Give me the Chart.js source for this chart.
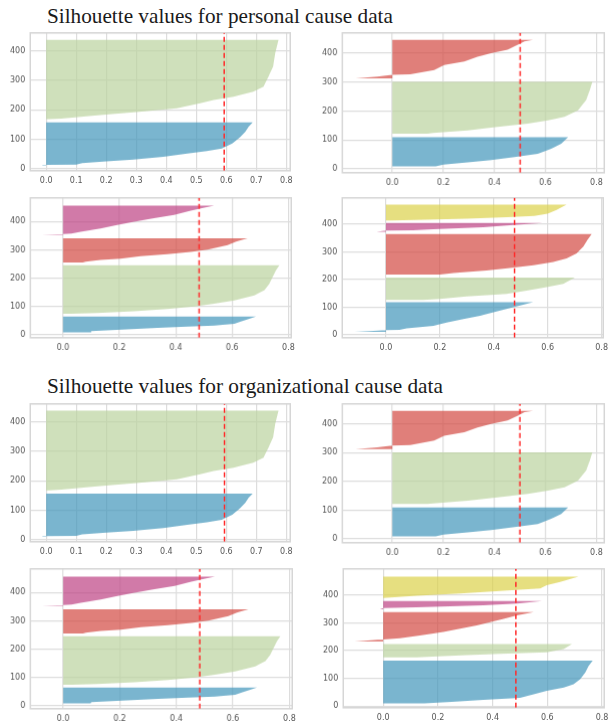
<!DOCTYPE html>
<html>
<head>
<meta charset="utf-8">
<script src="https://cdn.jsdelivr.net/npm/chart.js@4.4.0/dist/chart.umd.min.js"></script>
<style>
    body { margin: 0; background: #fff; width: 613px; height: 721px; position: relative; overflow: hidden; }
    .title { position: absolute; font-family: "Liberation Serif", "Times New Roman", serif; font-size: 21px; color: #1a1a1a; white-space: nowrap; line-height: 1; }
    .box { position: absolute; }
    .box canvas { display: block; }
</style>
</head>
<body>
<div class="title" id="title1" style="left:47px;top:6px">Silhouette values for personal cause data</div>
<div class="title" id="title2" style="left:47px;top:376px">Silhouette values for organizational cause data</div>

<script>
// 刻度
const xTicksFine = [0, 0.1, 0.2, 0.3, 0.4, 0.5, 0.6, 0.7, 0.8];
const xTicksCoarse = [0, 0.2, 0.4, 0.6, 0.8];
const yTicks = [0, 100, 200, 300, 400];

// 每个簇: [样本位置 y, 轮廓系数]
// personal, k=2
const pK2Blue = [[11, -0.015], [13, -0.01], [14, 0.1], [19, 0.12], [25, 0.2], [31, 0.29], [40, 0.39], [51, 0.47], [60, 0.535], [68, 0.585], [85, 0.62], [108, 0.647], [125, 0.663], [142, 0.674], [157, 0.688]];
const pK2Green = [[168, 0.01], [170, 0.05], [182, 0.18], [193, 0.31], [205, 0.435], [222, 0.513], [233, 0.558], [244, 0.624], [261, 0.69], [278, 0.724], [313, 0.741], [347, 0.756], [392, 0.763], [437, 0.774]];

// personal, k=3
const pK3Blue = [[9, 0.17], [15, 0.2], [23, 0.295], [31, 0.387], [41, 0.479], [52, 0.57], [70, 0.623], [87, 0.662], [110, 0.689]];
const pK3Green = [[122, 0.138], [124, 0.16], [133, 0.295], [145, 0.413], [157, 0.531], [168, 0.61], [180, 0.675], [203, 0.728], [238, 0.76], [272, 0.774], [301, 0.784]];
const pK3Red = [[313, -0.144], [319, -0.059], [325, 0.0], [327, 0.07], [342, 0.164], [359, 0.203], [371, 0.282], [388, 0.334], [400, 0.387], [412, 0.452], [429, 0.492], [441, 0.518], [446, 0.551]];

// personal, k=4
const pK4Blue = [[8, 0.097], [12, 0.1], [17, 0.19], [24, 0.335], [28, 0.44], [32, 0.536], [38, 0.608], [46, 0.631], [56, 0.661], [64, 0.685]];
const pK4Green = [[74, 0.03], [76, 0.12], [83, 0.252], [91, 0.37], [100, 0.465], [109, 0.536], [121, 0.608], [139, 0.679], [157, 0.715], [180, 0.732], [204, 0.744], [228, 0.756], [246, 0.768]];
const pK4Red = [[255, 0.07], [258, 0.08], [264, 0.133], [269, 0.204], [278, 0.275], [285, 0.37], [293, 0.453], [301, 0.513], [317, 0.584], [329, 0.614], [341, 0.655]];
const pK4Purple = [[353, -0.075], [355, -0.02], [356, 0.0], [358, 0.03], [364, 0.062], [376, 0.133], [388, 0.192], [400, 0.252], [412, 0.323], [424, 0.394], [439, 0.453], [447, 0.489], [457, 0.536]];

// personal, k=5
const pK5Blue = [[11, -0.115], [14, -0.06], [17, 0.0], [18, 0.05], [24, 0.077], [33, 0.176], [45, 0.225], [57, 0.287], [69, 0.349], [85, 0.41], [100, 0.472], [109, 0.509], [118, 0.546]];
const pK5Green = [[126, 0.138], [130, 0.2], [139, 0.299], [148, 0.448], [160, 0.522], [173, 0.596], [185, 0.658], [207, 0.701]];
const pK5Red = [[218, 0.2], [224, 0.25], [233, 0.373], [242, 0.46], [252, 0.547], [264, 0.621], [276, 0.67], [294, 0.707], [319, 0.732], [343, 0.747], [364, 0.763]];
const pK5Purple = [[373, -0.035], [377, 0.0], [378, 0.1], [382, 0.176], [389, 0.361], [398, 0.485], [404, 0.581]];
const pK5Yellow = [[413, 0.02], [416, 0.15], [420, 0.3], [425, 0.45], [430, 0.55], [438, 0.6], [452, 0.633], [471, 0.67]];

// organizational, k=5 (k=2..4 与 personal 相同)
const oK5Blue = [[10, 0.15], [15, 0.25], [22, 0.366], [30, 0.5], [42, 0.55], [55, 0.598], [67, 0.66], [79, 0.696], [97, 0.72], [121, 0.739], [145, 0.751], [164, 0.766]];
const oK5Green = [[176, 0.122], [179, 0.2], [184, 0.305], [188, 0.427], [194, 0.598], [206, 0.66], [224, 0.69]];
const oK5Red = [[233, -0.104], [239, -0.02], [240, 0.0], [245, 0.061], [255, 0.134], [267, 0.22], [279, 0.281], [291, 0.342], [303, 0.391], [315, 0.44], [327, 0.489], [339, 0.55]];
const oK5Purple = [[349, -0.012], [354, 0.0], [356, 0.12], [358, 0.183], [364, 0.366], [370, 0.489], [379, 0.58]];
const oK5Yellow = [[390, 0.0], [398, 0.122], [406, 0.281], [415, 0.427], [424, 0.574], [436, 0.598], [448, 0.647], [467, 0.714]];

// 平均轮廓系数
const personalAvg = [0.593, 0.501, 0.483, 0.477];
const orgAvg = [0.594, 0.5, 0.483, 0.485];

const clusterColors = ['rgba(65,149,186,0.7)', 'rgba(186,211,158,0.7)', 'rgba(211,72,66,0.7)', 'rgba(189,65,131,0.7)', 'rgba(219,209,74,0.7)'];

const panels = [
    { frame: [30, 33, 260, 137], x: [-0.053, 0.813], y: [-7, 461], xTicks: xTicksFine, clusters: [pK2Blue, pK2Green], avg: personalAvg[0] },
    { frame: [342, 33, 261, 139], x: [-0.196, 0.831], y: [-13, 470], xTicks: xTicksCoarse, clusters: [pK3Blue, pK3Green, pK3Red], avg: personalAvg[1] },
    { frame: [30, 198, 260, 139], x: [-0.116, 0.81], y: [-11, 484], xTicks: xTicksCoarse, clusters: [pK4Blue, pK4Green, pK4Red, pK4Purple], avg: personalAvg[2] },
    { frame: [342, 198, 261, 139], x: [-0.162, 0.806], y: [-10, 495], xTicks: xTicksCoarse, clusters: [pK5Blue, pK5Green, pK5Red, pK5Purple, pK5Yellow], avg: personalAvg[3] },
    { frame: [30, 404, 260, 137], x: [-0.053, 0.813], y: [-6, 460], xTicks: xTicksFine, clusters: [pK2Blue, pK2Green], avg: orgAvg[0] },
    { frame: [342, 404, 261, 138], x: [-0.196, 0.831], y: [-13, 470], xTicks: xTicksCoarse, clusters: [pK3Blue, pK3Green, pK3Red], avg: orgAvg[1] },
    { frame: [30, 569, 261, 139], x: [-0.116, 0.81], y: [-11, 484], xTicks: xTicksCoarse, clusters: [pK4Blue, pK4Green, pK4Red, pK4Purple], avg: orgAvg[2] },
    { frame: [343, 569, 261, 138], x: [-0.146, 0.808], y: [-6, 495], xTicks: xTicksCoarse, clusters: [oK5Blue, oK5Green, oK5Red, oK5Purple, oK5Yellow], avg: orgAvg[3] }
];

// 标题宽度按原图调整
function fitTitle(id, targetWidth) {
    const el = document.getElementById(id);
    const w = el.getBoundingClientRect().width;
    el.style.fontSize = (21 * targetWidth / w).toFixed(2) + 'px';
}
fitTitle('title1', 346);
fitTitle('title2', 396);

// 画外框
const framePlugin = {
    id: 'frame',
    beforeDatasetsDraw(chart) {
        const { ctx, chartArea } = chart;
        ctx.save();
        ctx.strokeStyle = '#d6d6d6';
        ctx.lineWidth = 1.5;
        ctx.strokeRect(chartArea.left, chartArea.top, chartArea.right - chartArea.left, chartArea.bottom - chartArea.top);
        ctx.restore();
    }
};

function clusterDataset(profile, color) {
    const first = profile[0][0];
    const last = profile[profile.length - 1][0];
    const pts = [{ x: 0, y: first }]
        .concat(profile.map(([y, s]) => ({ x: s, y: y })))
        .concat([{ x: 0, y: last }]);
    return {
        data: pts,
        showLine: true,
        fill: 'shape',
        backgroundColor: color,
        borderColor: 'rgba(0,0,0,0)',
        borderWidth: 1,
        pointRadius: 0,
        tension: 0
    };
}

function tickFont() {
    return { family: 'DejaVu Sans', size: 8 };
}

panels.forEach((p, i) => {
    const box = document.createElement('div');
    box.className = 'box';
    const canvas = document.createElement('canvas');
    canvas.width = p.frame[2] + 40;
    canvas.height = p.frame[3] + 20;
    box.appendChild(canvas);
    document.body.appendChild(box);

    const datasets = [{
        data: [{ x: p.avg, y: p.y[0] }, { x: p.avg, y: p.y[1] }],
        showLine: true,
        borderColor: '#ff2a2a',
        borderWidth: 1.5,
        borderDash: [5, 3],
        pointRadius: 0,
        fill: false
    }];
    p.clusters.forEach((c, k) => datasets.push(clusterDataset(c, clusterColors[k])));

    const chart = new Chart(canvas.getContext('2d'), {
        type: 'scatter',
        data: { datasets },
        options: {
            responsive: false,
            maintainAspectRatio: false,
            animation: false,
            layout: { padding: 0 },
            plugins: { legend: { display: false }, tooltip: { enabled: false } },
            scales: {
                x: {
                    type: 'linear',
                    min: p.x[0],
                    max: p.x[1],
                    afterBuildTicks: s => { s.ticks = p.xTicks.map(v => ({ value: v })); },
                    grid: { color: '#dddddd', lineWidth: 1.2, drawTicks: false },
                    border: { display: false },
                    ticks: { font: tickFont(), color: '#555', padding: 5, maxRotation: 0, callback: v => v.toFixed(1) }
                },
                y: {
                    type: 'linear',
                    min: p.y[0],
                    max: p.y[1],
                    afterBuildTicks: s => { s.ticks = yTicks.map(v => ({ value: v })); },
                    grid: { color: '#dddddd', lineWidth: 1.2, drawTicks: false },
                    border: { display: false },
                    ticks: { font: tickFont(), color: '#555', padding: 5, callback: v => String(v) }
                }
            }
        },
        plugins: [framePlugin]
    });

    // 让绘图区与原图位置对齐
    for (let pass = 0; pass < 2; pass++) {
        const ca = chart.chartArea;
        const extraW = chart.width - (ca.right - ca.left);
        const extraH = chart.height - (ca.bottom - ca.top);
        chart.resize(p.frame[2] + extraW, p.frame[3] + extraH);
    }
    const ca = chart.chartArea;
    box.style.left = (p.frame[0] - ca.left) + 'px';
    box.style.top = (p.frame[1] - ca.top) + 'px';
});
</script>
</body>
</html>
